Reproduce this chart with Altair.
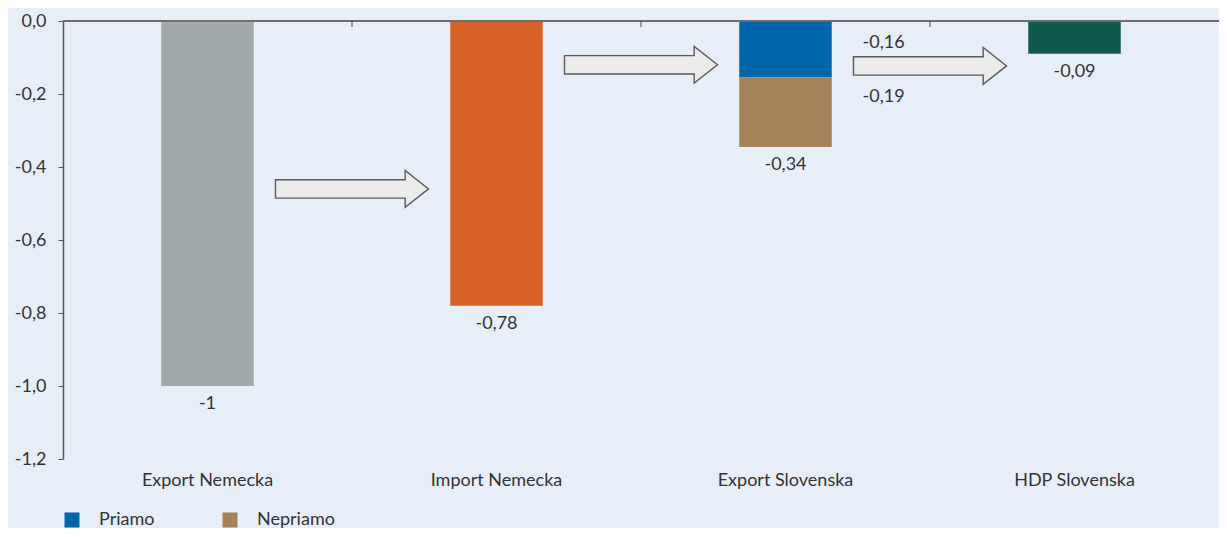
import altair as alt
import pandas as pd

# ---------------- data ----------------
categories = ["Export Nemecka", "Import Nemecka", "Export Slovenska", "HDP Slovenska"]
series_names = ["Export Nemecka", "Import Nemecka", "Priamo", "Nepriamo", "HDP Slovenska"]
series_category = ["Export Nemecka", "Import Nemecka", "Export Slovenska", "Export Slovenska", "HDP Slovenska"]
series_values = [-1.0, -0.78, -0.155, -0.19, -0.09]
series_colors = ["#a2a9ab", "#d66127", "#0066a9", "#a58258", "#10594d"]

total_labels = ["-1", "-0,78", "-0,34", "-0,09"]
segment_series = ["Priamo", "Nepriamo"]
segment_labels = ["-0,16", "-0,19"]

arrow_from = ["Export Nemecka", "Import Nemecka", "Export Slovenska"]
arrow_levels = [-0.46, -0.12, -0.123]

y_ticks = [0.0, -0.2, -0.4, -0.6, -0.8, -1.0, -1.2]

# ---------------- layout ----------------
W, H = 1156, 438
P_INNER, P_OUTER = 0.68, 0.34
STEP = W / (len(categories) - P_INNER + 2 * P_OUTER)
FONT = "Lato"
FS = 18
TXT = "#333333"

bars = pd.DataFrame({
    "category": series_category,
    "series": series_names,
    "value": series_values,
    "order": list(range(len(series_names))),
})

tot = bars.groupby("category", sort=False)["value"].sum()
totals = pd.DataFrame({
    "category": categories,
    "total": [tot[c] for c in categories],
    "label": total_labels,
})

# segment midpoints for the stacked bar
seg_rows = bars[bars["series"].isin(segment_series)].copy()
seg_rows["end"] = seg_rows["value"].cumsum()
seg_rows["mid"] = seg_rows["end"] - seg_rows["value"] / 2
seg_rows["label"] = segment_labels

arrows = pd.DataFrame({"category": arrow_from, "level": arrow_levels})
ticks_df = pd.DataFrame({"category": categories[:-1]})

x_scale = alt.Scale(domain=categories, paddingInner=P_INNER, paddingOuter=P_OUTER)
y_scale = alt.Scale(domain=[-1.2, 0], nice=False)

x_axis = alt.Axis(orient="bottom", domain=False, ticks=False, labelAngle=0,
                  labelFontSize=FS, labelColor=TXT, labelFont=FONT, labelPadding=12)
y_axis = alt.Axis(values=y_ticks, format=".1f", grid=False, domainColor="#555555",
                  domainWidth=1.5, tickColor="#555555", tickSize=5, labelFontSize=FS,
                  labelColor=TXT, labelFont=FONT, labelPadding=12)


def xenc():
    return alt.X("category:N", sort=categories, scale=x_scale, axis=x_axis, title=None,
                 bandPosition=0.5)


def yenc(field):
    return alt.Y(field, scale=y_scale, axis=y_axis, title=None)


bar_layer = alt.Chart(bars).mark_bar().encode(
    x=alt.X("category:N", sort=categories, scale=x_scale, title=None, axis=x_axis),
    y=alt.Y("value:Q", scale=y_scale, title=None, stack="zero", axis=y_axis),
    color=alt.Color("series:N", scale=alt.Scale(domain=series_names, range=series_colors),
                    legend=alt.Legend(values=segment_series, title=None, orient="none",
                                      legendX=0, legendY=490, direction="horizontal",
                                      symbolType="square", symbolSize=225, symbolStrokeWidth=0,
                                      labelFontSize=FS, labelColor=TXT, labelFont=FONT,
                                      labelOffset=18, columnPadding=66, padding=0)),
    order=alt.Order("order:Q"),
)

zero_rule = alt.Chart(bars).mark_rule(color="#6e6e6e", strokeWidth=2).encode(y=alt.datum(0))

cat_ticks = alt.Chart(ticks_df).mark_rule(color="#444444", strokeWidth=1, xOffset=STEP / 2).encode(
    x=xenc(), y=alt.value(0), y2=alt.value(6)
)

total_text = alt.Chart(totals).mark_text(
    fontSize=FS, font=FONT, color=TXT, baseline="middle", align="center", dy=18
).encode(x=xenc(), y=yenc("total:Q"), text="label:N")

seg_p = alt.Chart(seg_rows[seg_rows["series"] == "Priamo"]).mark_text(
    fontSize=FS, font=FONT, color=TXT, baseline="middle", align="left", dx=77, dy=-6
).encode(x=xenc(), y=yenc("mid:Q"), text="label:N")

seg_n = alt.Chart(seg_rows[seg_rows["series"] == "Nepriamo"]).mark_text(
    fontSize=FS, font=FONT, color=TXT, baseline="middle", align="left", dx=77, dy=-15
).encode(x=xenc(), y=yenc("mid:Q"), text="label:N")

ARROW = "M -1 -0.12 L 0.695 -0.12 L 0.695 -0.24 L 1 0 L 0.695 0.24 L 0.695 0.12 L -1 0.12 Z"
arrow_layer = alt.Chart(arrows).mark_point(
    shape=ARROW, size=153 * 153, filled=True, fill="#ebebeb", stroke="#5a5a5a",
    strokeWidth=1.4, opacity=1, xOffset=STEP / 2
).encode(x=xenc(), y=yenc("level:Q"))

chart = alt.layer(
    bar_layer, zero_rule, cat_ticks, total_text, seg_p, seg_n, arrow_layer
).properties(
    width=W, height=H,
    autosize=alt.AutoSizeParams(type="none"),
    padding={"left": 55, "top": 13, "right": 0, "bottom": 69},
).configure(
    background="#e8eef8",
    font=FONT,
    locale=alt.Locale(number=alt.NumberLocale(decimal=",", thousands=" ", grouping=[3],
                                              currency=["", ""], minus="-")),
).configure_view(stroke=None)

chart.save("out.html", embed_options={"renderer": "svg", "actions": False})
